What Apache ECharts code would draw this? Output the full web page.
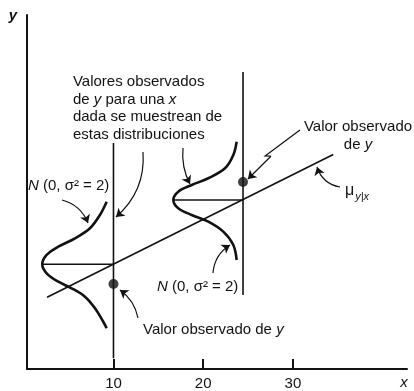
<!DOCTYPE html>
<html><head><meta charset="utf-8">
<script src="https://cdn.jsdelivr.net/npm/echarts@6/dist/echarts.min.js"></script>
<style>html,body{margin:0;padding:0;background:#fff}#c{width:414px;height:391px}</style>
</head><body><div id="c"></div>
<script>
// ---------- data ----------
const xTicks = [10, 20, 30];
const regressionX = [2.6, 34.5];
const regressionY = [8.0, 23.9];
// sideways normal curve at x = 10
const curve1X = [9.24, 8.49, 7.38, 5.71, 3.85, 2.55, 2.06, 2.55, 3.85, 5.34, 6.82, 7.94, 8.86, 9.24];
const curve1Y = [18.65, 17.17, 15.69, 14.57, 13.63, 12.71, 11.67, 10.67, 9.73, 9.00, 8.06, 6.77, 5.27, 4.54];
// sideways normal curve at x = 24.4
const curve2X = [23.73, 23.36, 22.43, 20.57, 18.72, 17.22, 16.67, 17.22, 18.72, 20.57, 22.24, 23.36, 23.73];
const curve2Y = [25.34, 23.86, 22.37, 21.26, 20.51, 19.77, 18.84, 17.92, 17.17, 16.42, 15.31, 13.82, 12.15];
const vline1X = [10, 10], vline1Y = [1.2, 25.2];
const vline2X = [24.44, 24.44], vline2Y = [8.25, 33.1];
const hline1X = [2.06, 10], hline1Y = [11.67, 11.67];
const hline2X = [16.67, 24.44], hline2Y = [18.84, 18.84];
const observedX = [10, 24.44];
const observedY = [9.48, 20.85];

// ---------- annotations (data coordinates) ----------
const arrowStarts = [[4.26, 18.84], [13.29, 24.19], [17.75, 24.64], [35.25, 20.29], [21.09, 10.70], [12.73, 5.69], [27.55, 23.72]];
const arrowEnds   = [[7.16, 16.28], [10.28, 16.95], [18.53, 20.62], [32.69, 22.52], [22.99, 13.82], [10.72, 8.81], [24.99, 21.18]];
const arrowBend   = [0.25, 0.25, -0.15, 0.3, 0.25, -0.2, 0];
const zigzag = [[30.79, 26.64], [26.9, 23.75], [27.55, 23.72]];

const INK = '#121212';
const FONT = '"Liberation Sans", Arial, Helvetica, sans-serif';

function pairs(xs, ys) { return xs.map((x, i) => [x, ys[i]]); }
function lineSeries(xs, ys, width, smooth) {
  return {
    type: 'line', data: pairs(xs, ys), showSymbol: false, symbol: 'none',
    smooth: smooth || false, smoothMonotone: 'none', silent: true,
    lineStyle: { color: INK, width: width }
  };
}

const series = [
  lineSeries(regressionX, regressionY, 1.6),
  lineSeries(vline1X, vline1Y, 1.6),
  lineSeries(vline2X, vline2Y, 1.6),
  lineSeries(hline1X, hline1Y, 1.4),
  lineSeries(hline2X, hline2Y, 1.4),
  lineSeries(curve1X, curve1Y, 2.6, 0.35),
  lineSeries(curve2X, curve2Y, 2.6, 0.35),
  {
    type: 'scatter', data: pairs(observedX, observedY), symbol: 'circle', symbolSize: 10,
    itemStyle: { color: INK }, silent: true, z: 5
  },
  {
    type: 'lines', coordinateSystem: 'cartesian2d', silent: true,
    symbol: ['none', 'arrow'], symbolSize: [1, 8],
    lineStyle: { color: INK, width: 1.2, opacity: 1 },
    data: arrowStarts.map((s, i) => ({ coords: [s, arrowEnds[i]], lineStyle: { curveness: arrowBend[i] } }))
  },
  {
    type: 'lines', coordinateSystem: 'cartesian2d', polyline: true, silent: true,
    lineStyle: { color: INK, width: 1.2, opacity: 1 },
    data: [{ coords: zigzag }]
  }
];

const option = {
  animation: false,
  backgroundColor: '#ffffff',
  grid: { left: 27, right: 7, top: 15, bottom: 22, containLabel: false, outerBoundsMode: 'none' },
  xAxis: {
    type: 'value', min: 0.36, max: 42.72,
    axisLine: { show: true, lineStyle: { color: INK, width: 2 } },
    axisTick: { show: true, inside: true, length: 10, customValues: xTicks, lineStyle: { color: INK, width: 2 } },
    axisLabel: { show: true, customValues: xTicks, color: INK, fontSize: 15, fontFamily: FONT, margin: 7 },
    splitLine: { show: false }
  },
  yAxis: {
    type: 'value', min: 0, max: 39.46,
    axisLine: { show: true, lineStyle: { color: INK, width: 2 } },
    axisTick: { show: false }, axisLabel: { show: false }, splitLine: { show: false }
  },
  series: series
};

const chart = echarts.init(document.getElementById('c'), null, { renderer: 'canvas' });
chart.setOption(option);

function P(p) { return chart.convertToPixel({ gridIndex: 0 }, p); }
function txt(pos, text, align, opts) {
  const p = P(pos);
  opts = opts || {};
  return {
    type: 'text', x: p[0], y: p[1], silent: true, z: 10,
    style: Object.assign({
      text: text, fill: INK, fontSize: 15, fontFamily: FONT,
      align: align, textAlign: align, verticalAlign: 'middle', textVerticalAlign: 'middle',
      lineHeight: 17.5,
      rich: { i: { fontStyle: 'italic', fontSize: 15, fontFamily: FONT, fill: INK, lineHeight: 17.5 } }
    }, opts)
  };
}

const graphics = [
  txt([5.48, 29.06], 'Valores observados\nde {i|y} para una {i|x}\ndada se muestrean de\nestas distribuciones', 'left'),
  txt([0.47, 20.40], '{i|N} (0, σ² = 2)', 'left'),
  txt([14.85, 9.14], '{i|N} (0, σ² = 2)', 'left'),
  txt([13.29, 4.35], 'Valor observado de {i|y}', 'left'),
  txt([37.26, 25.98], 'Valor observado\nde {i|y}', 'center', { lineHeight: 18 }),
  txt([35.81, 19.9], 'μ', 'left', { fontSize: 16 }),
  txt([36.95, 19.2], 'y|x', 'left', { fontSize: 11, fontStyle: 'italic' }),
  { type: 'text', x: 13, y: 16, silent: true, style: { text: 'y', fill: INK, fontSize: 15, fontFamily: FONT, fontStyle: 'italic', fontWeight: 'bold', align: 'center', textAlign: 'center', verticalAlign: 'middle', textVerticalAlign: 'middle' } },
  { type: 'text', x: 404, y: 383, silent: true, style: { text: 'x', fill: INK, fontSize: 15, fontFamily: FONT, fontStyle: 'italic', align: 'center', textAlign: 'center', verticalAlign: 'middle', textVerticalAlign: 'middle' } }
];
chart.setOption({ graphic: graphics });
</script>
</body></html>
